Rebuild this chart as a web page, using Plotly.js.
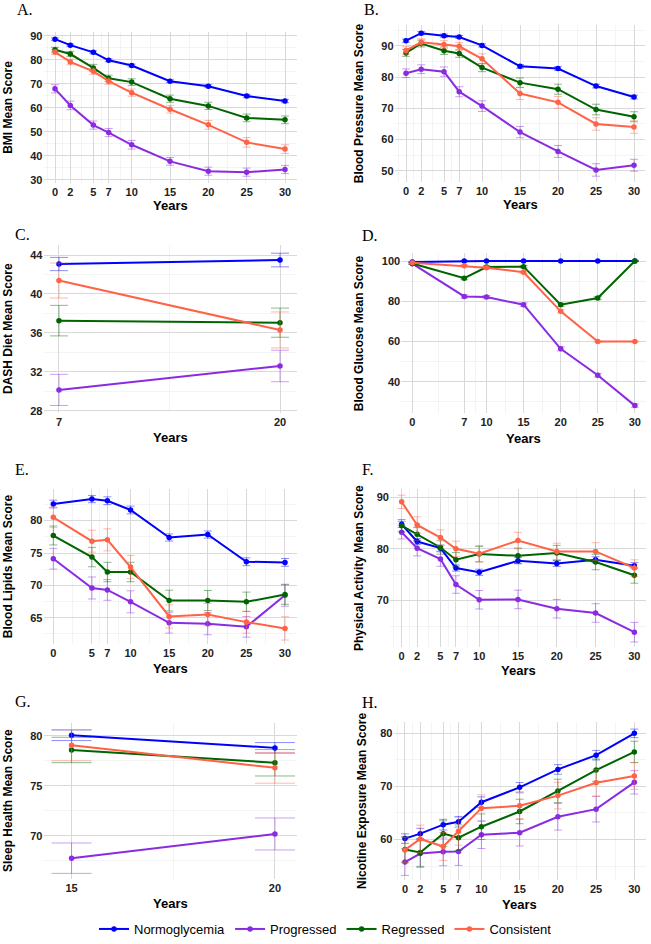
<!DOCTYPE html>
<html>
<head>
<meta charset="utf-8">
<script src="https://cdn.plot.ly/plotly-3.0.1.min.js"></script>
<style>html,body{margin:0;padding:0;background:#fff;}#chart{width:651px;height:944px;}</style>
</head>
<body>
<div id="chart"></div>
<script>
// ---------- categories ----------
const groups = ['Normoglycemia', 'Progressed', 'Regressed', 'Consistent'];

// ---------- years ----------
const yearsFull = [0, 2, 5, 7, 10, 15, 20, 25, 30];
const yearsDash = [7, 20];
const yearsGlucose = [0, 7, 10, 15, 20, 25, 30];
const yearsLipids = [0, 5, 7, 10, 15, 20, 25, 30];
const yearsSleep = [15, 20];

// ---------- A. BMI ----------
const bmiNorm = [88.6, 86.1, 83.1, 79.8, 77.6, 71.1, 69.0, 64.9, 62.8];
const bmiNormErr = [0.5, 0.5, 0.6, 0.6, 0.6, 0.6, 0.6, 0.7, 0.7];
const bmiProg = [67.9, 61.0, 52.8, 49.7, 44.6, 37.7, 33.6, 33.2, 34.3];
const bmiProgErr = [1.7, 1.8, 1.7, 1.7, 1.8, 1.6, 1.7, 1.7, 1.7];
const bmiRegr = [84.2, 82.4, 76.6, 72.3, 70.7, 63.8, 60.8, 55.8, 55.0];
const bmiRegrErr = [1.0, 1.1, 1.5, 1.3, 1.4, 1.5, 1.5, 1.6, 1.6];
const bmiCons = [83.2, 79.1, 75.2, 71.1, 66.3, 59.4, 52.9, 45.6, 42.8];
const bmiConsErr = [1.0, 1.2, 1.3, 1.3, 1.5, 1.6, 1.8, 2.0, 1.8];

// ---------- B. Blood pressure ----------
const bpNorm = [91.6, 94.0, 93.2, 92.8, 90.1, 83.4, 82.7, 77.1, 73.6];
const bpNormErr = [0.5, 0.5, 0.5, 0.5, 0.5, 0.6, 0.6, 0.6, 0.6];
const bpProg = [81.2, 82.5, 81.7, 75.3, 70.7, 62.4, 56.2, 50.3, 51.8];
const bpProgErr = [1.4, 1.4, 1.5, 1.6, 1.7, 1.8, 1.9, 2.0, 1.9];
const bpRegr = [87.7, 90.7, 88.4, 87.5, 83.0, 78.2, 76.1, 69.6, 67.3];
const bpRegrErr = [1.1, 1.1, 1.2, 1.2, 1.3, 1.5, 1.6, 1.7, 1.6];
const bpCons = [88.5, 91.1, 90.4, 89.8, 85.8, 74.7, 71.9, 65.0, 64.0];
const bpConsErr = [1.2, 1.1, 1.2, 1.2, 1.6, 1.9, 1.9, 2.0, 2.0];

// ---------- C. DASH diet ----------
const dashNorm = [43.08, 43.49];
const dashNormErr = [0.68, 0.70];
const dashProg = [30.14, 32.6];
const dashProgErr = [1.6, 1.62];
const dashRegr = [37.26, 37.05];
const dashRegrErr = [1.57, 1.5];
const dashCons = [41.38, 36.3];
const dashConsErr = [1.8, 1.85];

// ---------- D. Blood glucose ----------
const gluNorm = [99.5, 100, 100, 100, 100, 100, 100];
const gluNormErr = [0.3, 0.2, 0.2, 0.2, 0.2, 0.2, 0.2];
const gluProg = [98.7, 82.4, 82.1, 78.3, 56.4, 43.3, 28.2];
const gluProgErr = [0.4, 0.8, 0.8, 0.9, 1.0, 0.9, 0.8];
const gluRegr = [98.8, 91.5, 97.0, 97.2, 78.3, 81.6, 100];
const gluRegrErr = [0.5, 0.8, 0.6, 0.6, 0.8, 0.8, 0.2];
const gluCons = [99.2, 97.7, 96.7, 94.4, 75.0, 60.0, 60.0];
const gluConsErr = [0.4, 0.5, 0.6, 0.7, 0.8, 0.2, 0.2];

// ---------- E. Blood lipids ----------
const lipNorm = [82.56, 83.33, 83.07, 81.64, 77.39, 77.85, 73.65, 73.55];
const lipNormErr = [0.6, 0.56, 0.6, 0.6, 0.55, 0.55, 0.6, 0.6];
const lipProg = [74.11, 69.6, 69.3, 67.46, 64.23, 64.08, 63.6, 68.48];
const lipProgErr = [1.6, 1.7, 1.6, 1.7, 1.6, 1.7, 1.6, 1.7];
const lipRegr = [77.7, 74.37, 72.06, 72.06, 67.66, 67.66, 67.46, 68.58];
const lipRegrErr = [1.46, 1.5, 1.5, 1.5, 1.6, 1.55, 1.5, 1.5];
const lipCons = [80.51, 76.83, 77.03, 72.83, 65.2, 65.5, 64.33, 63.36];
const lipConsErr = [1.6, 1.7, 1.7, 1.8, 1.8, 1.7, 1.7, 1.8];

// ---------- F. Physical activity ----------
const paNorm = [84.79, 81.45, 80.16, 76.3, 75.47, 77.72, 77.2, 77.9, 76.75];
const paNormErr = [0.6, 0.6, 0.6, 0.6, 0.6, 0.6, 0.6, 0.6, 0.6];
const paProg = [83.25, 80.16, 78.04, 73.09, 70.13, 70.19, 68.39, 67.56, 63.83];
const paProgErr = [1.3, 1.5, 1.4, 1.7, 1.8, 1.8, 1.8, 1.8, 1.9];
const paRegr = [84.53, 82.86, 80.29, 77.9, 79.0, 78.68, 79.2, 77.46, 74.9];
const paRegrErr = [1.2, 1.3, 1.3, 1.4, 1.5, 1.5, 1.5, 1.5, 1.55];
const paCons = [89.16, 84.66, 82.22, 80.03, 79.07, 81.64, 79.52, 79.52, 76.3];
const paConsErr = [1.3, 1.6, 1.5, 1.5, 1.6, 1.6, 1.6, 1.7, 1.6];

// ---------- G. Sleep health ----------
const slNorm = [80.07, 78.81];
const slNormErr = [0.53, 0.53];
const slProg = [67.78, 70.2];
const slProgErr = [1.52, 1.6];
const slRegr = [78.6, 77.32];
const slRegrErr = [1.27, 1.32];
const slCons = [79.07, 76.82];
const slConsErr = [1.55, 1.54];

// ---------- H. Nicotine exposure ----------
const nicNorm = [60.19, 61.12, 62.8, 63.35, 67.02, 69.81, 73.17, 75.84, 79.94];
const nicNormErr = [0.9, 1.0, 1.0, 1.0, 1.0, 0.9, 0.9, 0.9, 0.8];
const nicProg = [55.78, 57.39, 57.7, 57.76, 60.93, 61.3, 64.29, 65.71, 70.75];
const nicProgErr = [2.5, 2.6, 2.6, 2.6, 2.6, 2.5, 2.5, 2.4, 2.2];
const nicRegr = [58.14, 57.58, 61.12, 60.37, 62.42, 65.28, 69.13, 73.04, 76.46];
const nicRegrErr = [2.4, 2.6, 2.4, 2.4, 2.4, 2.3, 2.2, 2.1, 2.0];
const nicCons = [58.07, 60.12, 58.7, 61.55, 65.9, 66.34, 68.26, 70.68, 71.93];
const nicConsErr = [2.4, 2.6, 2.6, 2.6, 2.5, 2.4, 2.5, 2.5, 2.5];

// ---------- tick labels ----------
const ticksYearsFull = [0, 2, 5, 7, 10, 15, 20, 25, 30];
const ticksYearsGlucose = [0, 7, 10, 15, 20, 25, 30];
const ticksYearsLipids = [0, 5, 7, 10, 15, 20, 25, 30];
const ticksYearsDash = [7, 20];
const ticksYearsSleep = [15, 20];
const ticksBmi = [30, 40, 50, 60, 70, 80, 90];
const ticksBp = [50, 60, 70, 80, 90];
const ticksDash = [28, 32, 36, 40, 44];
const ticksGlu = [40, 60, 80, 100];
const ticksLip = [65, 70, 75, 80];
const ticksPa = [70, 80, 90];
const ticksSl = [70, 75, 80];
const ticksNic = [60, 70, 80];

// ---------- styles ----------
const colors = ['#0000FF', '#8A2BE2', '#006400', '#FF6347'];
const errColors = ['rgba(0,0,255,0.45)', 'rgba(138,43,226,0.45)', 'rgba(0,100,0,0.45)', 'rgba(255,99,71,0.45)'];
const W = 651, H = 944;

function midMinors(major, lo, hi) {
  const b = major.slice();
  if (b.length > 1) {
    const d0 = b[1] - b[0], d1 = b[b.length - 1] - b[b.length - 2];
    b.unshift(b[0] - d0); b.push(b[b.length - 1] + d1);
  }
  const out = [];
  for (let i = 0; i < b.length - 1; i++) {
    const m = (b[i] + b[i + 1]) / 2;
    if (m > lo && m < hi) out.push(m);
  }
  return out;
}

const panels = [
  {label: 'A.', ytitle: 'BMI Mean Score', x: yearsFull, xt: ticksYearsFull, yt: ticksBmi,
   series: [bmiNorm, bmiProg, bmiRegr, bmiCons], errs: [bmiNormErr, bmiProgErr, bmiRegrErr, bmiConsErr],
   px: [43.5, 296.5], py: [32.4, 184.6], xr: [-1.5, 31.5], yr: [28.5, 91.5], cap: 4,
   lab: [15, 10], yTitleX: 8, yearsY: 207},
  {label: 'B.', ytitle: 'Blood Pressure Mean Score', x: yearsFull, xt: ticksYearsFull, yt: ticksBp,
   series: [bpNorm, bpProg, bpRegr, bpCons], errs: [bpNormErr, bpProgErr, bpRegrErr, bpConsErr],
   px: [394.6, 645.4], py: [24.9, 183], xr: [-1.5, 31.5], yr: [46.5, 96.7], cap: 4,
   lab: [362, 10], yTitleX: 359, yearsY: 206},
  {label: 'C.', ytitle: 'DASH Diet Mean Score', x: yearsDash, xt: ticksYearsDash, yt: ticksDash,
   series: [dashNorm, dashProg, dashRegr, dashCons], errs: [dashNormErr, dashProgErr, dashRegrErr, dashConsErr],
   px: [43.5, 296.5], py: [246.9, 415.3], xr: [6.09, 20.97], yr: [27.8, 45.0], cap: 9,
   lab: [13, 236], yTitleX: 8, yearsY: 440},
  {label: 'D.', ytitle: 'Blood Glucose Mean Score', x: yearsGlucose, xt: ticksYearsGlucose, yt: ticksGlu,
   series: [gluNorm, gluProg, gluRegr, gluCons], errs: [gluNormErr, gluProgErr, gluRegrErr, gluConsErr],
   px: [401.2, 646], py: [255, 415.7], xr: [-1.5, 31.5], yr: [24.5, 103.8], cap: 4,
   lab: [360, 237], yTitleX: 359, yearsY: 441},
  {label: 'E.', ytitle: 'Blood Lipids Mean Score', x: yearsLipids, xt: ticksYearsLipids, yt: ticksLip,
   series: [lipNorm, lipProg, lipRegr, lipCons], errs: [lipNormErr, lipProgErr, lipRegrErr, lipConsErr],
   px: [43.5, 296.5], py: [492, 647.8], xr: [-1.27, 31.49], yr: [61.0, 84.9], cap: 4,
   lab: [13, 472], yTitleX: 8, yearsY: 673},
  {label: 'F.', ytitle: 'Physical Activity Mean Score', x: yearsFull, xt: ticksYearsFull, yt: ticksPa,
   series: [paNorm, paProg, paRegr, paCons], errs: [paNormErr, paProgErr, paRegrErr, paConsErr],
   px: [390, 646], py: [491.9, 651.4], xr: [-1.5, 31.5], yr: [60.9, 91.7], cap: 4,
   lab: [360, 472], yTitleX: 359, yearsY: 675},
  {label: 'G.', ytitle: 'Sleep Health Mean Score', x: yearsSleep, xt: ticksYearsSleep, yt: ticksSl,
   series: [slNorm, slProg, slRegr, slCons], errs: [slNormErr, slProgErr, slRegrErr, slConsErr],
   px: [43.5, 296.5], py: [727.6, 884.6], xr: [14.31, 20.53], yr: [65.7, 81.3], cap: 20,
   lab: [13, 706], yTitleX: 8, yearsY: 909},
  {label: 'H.', ytitle: 'Nicotine Exposure Mean Score', x: yearsFull, xt: ticksYearsFull, yt: ticksNic,
   series: [nicNorm, nicProg, nicRegr, nicCons], errs: [nicNormErr, nicProgErr, nicRegrErr, nicConsErr],
   px: [393.5, 645.8], py: [727, 885.2], xr: [-1.5, 31.5], yr: [52.5, 82.0], cap: 4,
   lab: [360, 707], yTitleX: 362, yearsY: 910}
];

const traces = [];
const layout = {
  width: W, height: H,
  margin: {l: 0, r: 0, t: 0, b: 0},
  paper_bgcolor: '#ffffff', plot_bgcolor: '#ffffff',
  font: {family: 'Liberation Sans, Arial, sans-serif', color: '#000'},
  showlegend: true,
  legend: {orientation: 'h', x: 0.5, xanchor: 'center', y: 1 - 935 / H, yanchor: 'middle',
           font: {size: 13, color: '#000'}, itemwidth: 30, tracegroupgap: 0, bgcolor: 'rgba(0,0,0,0)'},
  annotations: []
};

const gridMajor = '#d9d9d9', gridMinor = '#ececec';
const tickFont = {family: 'Liberation Sans, Arial, sans-serif', size: 11, color: '#222', weight: 'bold'};

panels.forEach((p, i) => {
  const n = i + 1;
  const xa = 'xaxis' + (n === 1 ? '' : n), ya = 'yaxis' + (n === 1 ? '' : n);
  const xr = 'x' + (n === 1 ? '' : n), yr = 'y' + (n === 1 ? '' : n);
  const xd = [p.px[0] / W, p.px[1] / W];
  const yd = [1 - p.py[1] / H, 1 - p.py[0] / H];
  layout[xa] = {
    domain: xd, anchor: yr, range: p.xr, tickmode: 'array', tickvals: p.xt, ticktext: p.xt.map(String),
    showgrid: true, gridcolor: gridMajor, gridwidth: 1, zeroline: false, showline: false, ticks: '',
    tickfont: tickFont, ticklabelstandoff: 1,
    minor: {tickmode: 'array', tickvals: midMinors(p.xt, p.xr[0], p.xr[1]), showgrid: true, gridcolor: gridMinor, gridwidth: 0.6, ticks: ''},
    fixedrange: true
  };
  layout[ya] = {
    domain: yd, anchor: xr, range: p.yr, tickmode: 'array', tickvals: p.yt, ticktext: p.yt.map(String),
    showgrid: true, gridcolor: gridMajor, gridwidth: 1, zeroline: false, showline: false, ticks: '',
    tickfont: tickFont, ticklabelstandoff: 0,
    minor: {tickmode: 'array', tickvals: midMinors(p.yt, p.yr[0], p.yr[1]), showgrid: true, gridcolor: gridMinor, gridwidth: 0.6, ticks: ''},
    fixedrange: true
  };
  p.series.forEach((s, g) => {
    traces.push({
      type: 'scatter', mode: 'lines+markers', x: p.x, y: s, xaxis: xr, yaxis: yr,
      name: groups[g], legendgroup: groups[g], showlegend: i === 0,
      line: {color: colors[g], width: 2},
      marker: {color: colors[g], size: 5.5},
      error_y: {type: 'data', array: p.errs[g], visible: true, color: errColors[g], thickness: 1, width: p.cap},
      hoverinfo: 'skip'
    });
  });
  // panel label
  layout.annotations.push({xref: 'paper', yref: 'paper', x: p.lab[0] / W, y: 1 - p.lab[1] / H,
    xanchor: 'left', yanchor: 'middle', text: p.label, showarrow: false,
    font: {family: 'Liberation Serif, Times New Roman, serif', size: 16, color: '#000'}});
  // y title
  layout.annotations.push({xref: 'paper', yref: 'paper', x: p.yTitleX / W, y: 1 - (p.py[0] + p.py[1]) / 2 / H,
    xanchor: 'center', yanchor: 'middle', text: p.ytitle, textangle: -90, showarrow: false,
    font: {family: 'Liberation Sans, Arial, sans-serif', size: 12, color: '#000', weight: 'bold'}});
  // x title
  layout.annotations.push({xref: 'paper', yref: 'paper', x: (p.px[0] + p.px[1]) / 2 / W, y: 1 - p.yearsY / H,
    xanchor: 'center', yanchor: 'middle', text: 'Years', showarrow: false,
    font: {family: 'Liberation Sans, Arial, sans-serif', size: 13, color: '#000', weight: 'bold'}});
});

Plotly.newPlot('chart', traces, layout, {displayModeBar: false, staticPlot: true});
</script>
</body>
</html>
